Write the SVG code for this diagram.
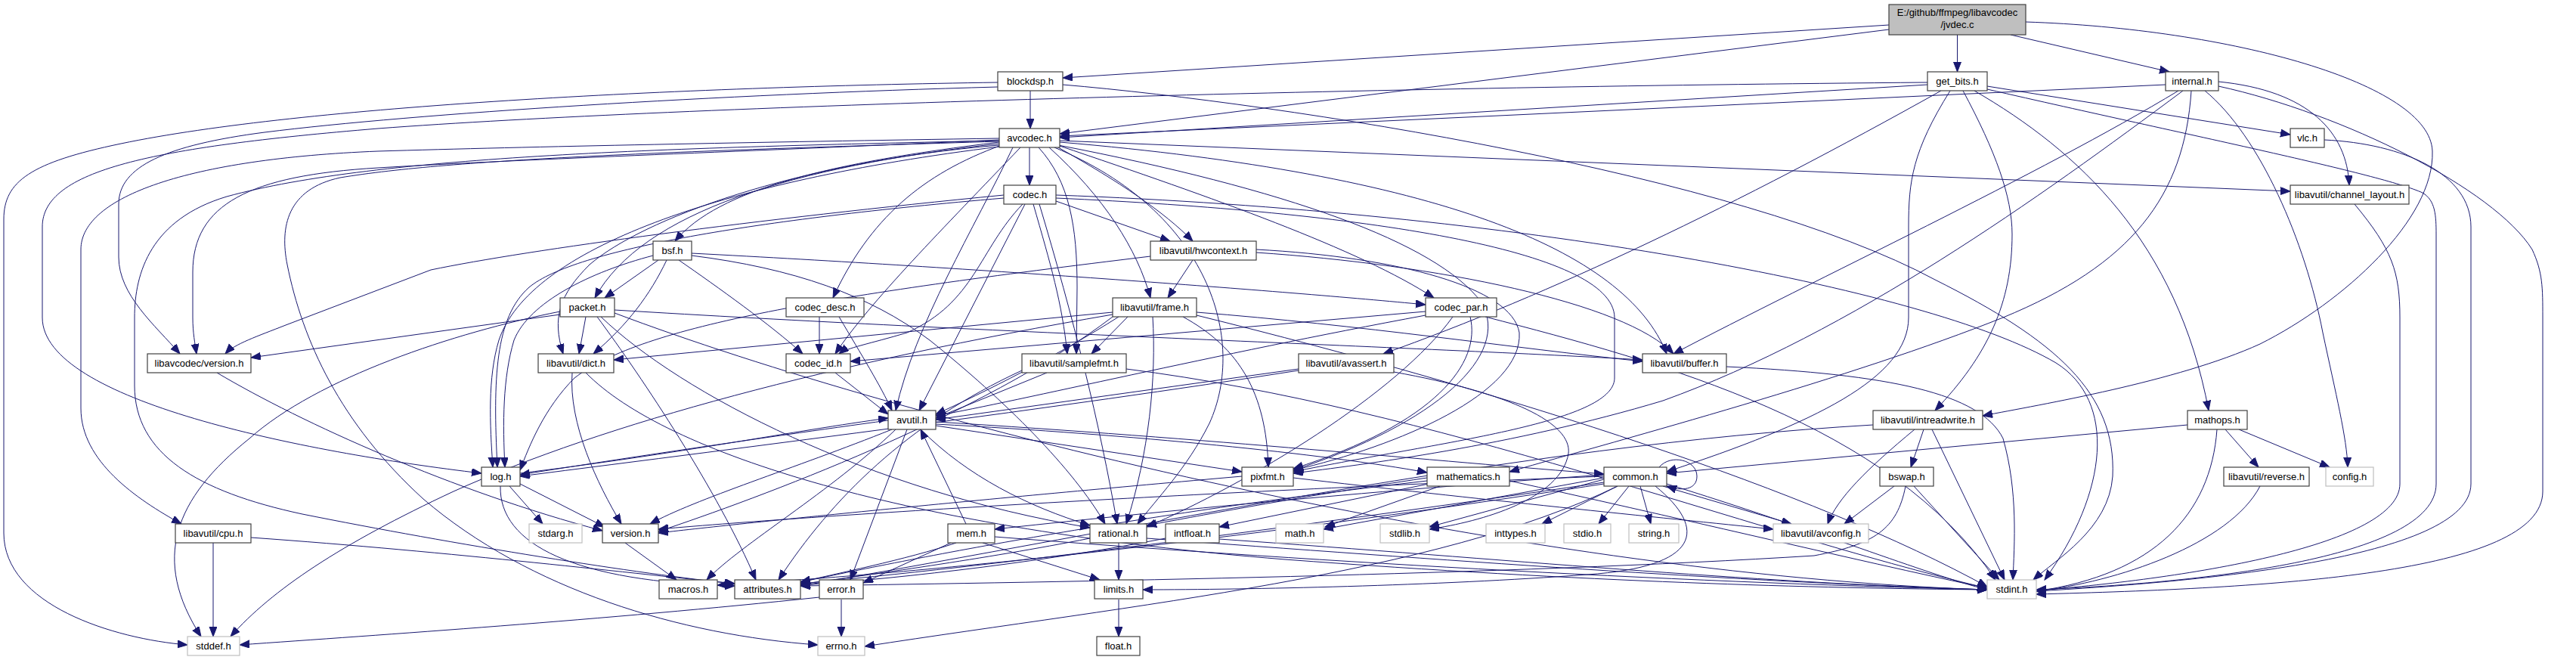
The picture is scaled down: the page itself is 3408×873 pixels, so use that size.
<svg xmlns="http://www.w3.org/2000/svg" width="3408" height="873" viewBox="0 0 3408 873">
<style>
.n rect{fill:#fff;stroke:#404040;stroke-width:1.2}
.s rect{fill:#fff;stroke:#bfbfbf;stroke-width:1.2}
.r rect{fill:#bfbfbf;stroke:#404040;stroke-width:1.2}
text{font-family:"Liberation Sans",Arial,Helvetica,sans-serif;font-size:13px;text-anchor:middle;fill:#000}
#edges path{fill:none;stroke:#191970;stroke-width:1;marker-end:url(#arr)}
</style>
<defs>
<marker id="arr" markerUnits="userSpaceOnUse" markerWidth="14" markerHeight="11" refX="13" refY="5" orient="auto"><path d="M0,0 L13,5 L0,10 z" fill="#191970" stroke="#191970" stroke-width="1"/></marker>
</defs>
<rect x="0" y="0" width="3408" height="873" fill="#ffffff"/>
<g id="edges">
<path d="M2499,33 L1406,103"/>
<path d="M2499,39 L1402,177"/>
<path d="M2589.5,46 L2589.5,95"/>
<path d="M2660,46 L2870,95"/>
<path d="M2680,29 C2950,38 3215,110 3218,200 C3221,290 3100,400 2990,455 C2880,505 2700,535 2623,550"/>
<path d="M1363,120 L1363,170"/>
<path d="M1320,109 C900,115 400,140 160,190 C40,215 5,240 5,290 L5,705 C5,800 150,845 248,853"/>
<path d="M1320,115 C950,125 550,150 350,175 C220,192 157,220 157,270 L157,340 C157,390 205,430 238,468"/>
<path d="M1406,112 C1700,137 2300,230 2560,370 C2720,450 2800,520 2795,630 C2790,700 2720,740 2690,767"/>
<path d="M2550,112 L1402,182"/>
<path d="M2550,109 C1800,115 900,140 500,170 C200,195 56,225 56,300 L56,420 C56,530 400,598 637,626"/>
<path d="M2568,120 C2300,270 2050,390 1830,468"/>
<path d="M2580,120 C2530,200 2525,240 2525,300 L2525,420 C2525,500 2400,560 2205,624"/>
<path d="M2597,120 C2640,200 2662,260 2662,310 C2662,400 2630,470 2560,543"/>
<path d="M2612,120 C2750,200 2880,320 2922,543"/>
<path d="M2629,114 L3030,178"/>
<path d="M2629,118 C2900,180 3150,230 3205,255 C3222,265 3223,285 3223,310 L3223,640 C3223,740 2900,772 2694,780"/>
<path d="M2865,112 L1402,180"/>
<path d="M2935,108 C3055,120 3105,175 3108,245"/>
<path d="M2935,114 C3100,150 3300,250 3350,330 C3364,360 3364,380 3364,420 L3364,650 C3364,760 3000,778 2694,786"/>
<path d="M2917,120 C2990,180 3050,320 3073,440 C3090,520 3105,580 3106,618"/>
<path d="M2899,120 C2890,260 2820,350 2650,420 C2450,500 2150,580 1997,624"/>
<path d="M2882,120 C2700,230 2400,370 2214,468"/>
<path d="M2888,120 C2700,260 2450,440 2200,530 C2000,590 1800,615 1711,626"/>
<path d="M1362,195 L1362,245"/>
<path d="M1322,188 C1100,215 950,250 893,319"/>
<path d="M1322,190 C1050,220 850,280 787,394"/>
<path d="M1322,192 C1050,215 850,290 780,350 C740,390 730,420 745,468"/>
<path d="M1322,194 C950,240 700,330 660,450 C645,500 648,560 652,618"/>
<path d="M1322,185 C1000,200 700,210 500,222 C330,232 255,270 255,360 L255,420 C255,440 258,455 260,468"/>
<path d="M1322,183 C1000,188 700,194 500,200 C250,210 107,260 107,330 L107,540 C107,610 180,660 240,693"/>
<path d="M1322,187 C900,200 600,210 450,235 C380,250 370,300 380,350 C400,450 450,560 560,660 C700,780 900,840 1082,853"/>
<path d="M1322,186 C900,195 500,205 300,260 C200,290 178,360 178,420 L178,510 C178,600 260,650 400,680 C600,720 850,760 972,772"/>
<path d="M1325,192 C1220,230 1150,290 1102,394"/>
<path d="M1350,195 C1250,300 1150,400 1105,468"/>
<path d="M1374,195 C1415,240 1425,300 1425,380 L1424,468"/>
<path d="M1340,195 C1290,300 1210,430 1185,543"/>
<path d="M1388,195 C1460,260 1505,330 1522,394"/>
<path d="M1400,195 C1480,240 1540,280 1578,319"/>
<path d="M1402,186 L3030,253"/>
<path d="M1402,188 C1900,230 2150,330 2205,468"/>
<path d="M1400,192 C1700,250 1900,320 1960,400 C2000,470 1900,560 1711,622"/>
<path d="M1395,195 C1600,280 1650,450 1600,560 C1570,620 1530,660 1505,693"/>
<path d="M1402,193 C1600,260 1800,330 1897,394"/>
<path d="M1397,266 L1548,319"/>
<path d="M1397,258 C2000,280 2550,380 2720,480 C2800,530 2790,650 2705,767"/>
<path d="M1397,262 C1800,280 2135,330 2136,420 L2136,500 C2136,560 1900,585 1711,624"/>
<path d="M1367,270 C1390,350 1405,400 1412,468"/>
<path d="M1353,270 C1295,330 1290,400 1200,440 C1150,455 1120,460 1110,468"/>
<path d="M1356,270 L1216,543"/>
<path d="M1328,258 C1000,290 700,330 570,357 L378,430 C340,445 310,455 298,468"/>
<path d="M1328,262 C1000,290 760,330 700,380 C655,420 652,500 658,618"/>
<path d="M1375,270 C1420,420 1455,560 1478,693"/>
<path d="M871,344 L800,394"/>
<path d="M882,344 C860,390 830,430 785,468"/>
<path d="M864,338 C780,360 700,400 680,450 C665,500 665,560 668,618"/>
<path d="M898,344 C950,380 1020,430 1062,468"/>
<path d="M915,335 C1300,355 1700,385 1886,403"/>
<path d="M915,338 C1050,355 1150,390 1230,450 C1330,530 1420,620 1462,693"/>
<path d="M775,419 L766,468"/>
<path d="M741,412 C600,440 420,500 330,580 C230,660 200,740 266,842"/>
<path d="M741,416 L332,473"/>
<path d="M790,419 C850,500 950,650 1000,767"/>
<path d="M813,410 C1300,440 1900,460 2173,476"/>
<path d="M795,419 C900,520 1150,650 1442,698"/>
<path d="M813,414 C1200,560 2000,760 2629,780"/>
<path d="M1084,419 L1084,468"/>
<path d="M1110,419 C1140,470 1165,510 1180,543"/>
<path d="M1105,493 L1175,548"/>
<path d="M1886,412 L1125,478"/>
<path d="M1886,417 C1600,470 1350,530 1238,550"/>
<path d="M1922,419 C1850,520 1650,640 1517,697"/>
<path d="M1945,419 C1960,480 1900,560 1711,620"/>
<path d="M1965,419 C2200,480 2500,560 2640,767"/>
<path d="M1578,344 L1545,394"/>
<path d="M1662,330 C1850,340 2000,380 2010,440 C2015,520 1850,590 1711,622"/>
<path d="M1662,334 C1900,350 2150,400 2214,468"/>
<path d="M1522,339 C1100,390 850,430 760,500 C720,540 700,590 688,622"/>
<path d="M1472,413 L812,476"/>
<path d="M1492,419 L1444,468"/>
<path d="M1480,419 C1400,470 1300,520 1238,548"/>
<path d="M1525,419 C1530,500 1520,600 1490,693"/>
<path d="M1565,419 C1640,460 1675,520 1678,618"/>
<path d="M1583,413 C1800,430 2000,460 2173,478"/>
<path d="M1472,416 C1100,480 800,560 600,650 C450,720 360,780 305,842"/>
<path d="M1583,417 C2000,520 2400,650 2629,776"/>
<path d="M1472,419 C1300,550 1000,660 871,703"/>
<path d="M287,493 C400,560 600,650 797,702"/>
<path d="M757,493 C752,560 790,640 822,693"/>
<path d="M775,493 C880,600 1200,700 1700,740 C2100,770 2400,778 2629,780"/>
<path d="M1385,493 L1238,553"/>
<path d="M1352,490 C1200,560 1100,660 1030,767"/>
<path d="M1490,488 C1900,540 2300,700 2629,778"/>
<path d="M1718,488 L1238,555"/>
<path d="M1718,490 C1400,540 1000,590 688,630"/>
<path d="M1844,492 C2000,520 2080,560 2075,600 C2065,660 1960,690 1891,700"/>
<path d="M2284,485 C2500,495 2620,520 2650,580 C2670,650 2665,720 2663,767"/>
<path d="M1238,558 C1600,580 1900,610 2122,627"/>
<path d="M1238,563 L1643,624"/>
<path d="M1238,561 C1500,575 1750,600 1888,625"/>
<path d="M1218,568 C1280,630 1360,670 1442,695"/>
<path d="M1200,568 L1125,767"/>
<path d="M1180,568 C1050,620 920,660 860,693"/>
<path d="M1185,568 C1100,650 980,720 935,767"/>
<path d="M1175,556 C1000,580 800,610 688,628"/>
<path d="M2545,568 L2528,618"/>
<path d="M2533,568 C2470,620 2430,660 2418,693"/>
<path d="M2556,568 L2652,767"/>
<path d="M2478,562 C2000,590 1500,700 1059,775"/>
<path d="M2894,562 L2205,626"/>
<path d="M2944,568 L2988,618"/>
<path d="M2962,568 L3082,618"/>
<path d="M2933,568 C2925,680 2850,760 2694,782"/>
<path d="M674,643 L718,693"/>
<path d="M688,640 L800,697"/>
<path d="M662,643 C660,720 760,770 972,775"/>
<path d="M688,626 C900,600 1050,570 1175,553"/>
<path d="M1711,632 C1950,660 2200,685 2346,700"/>
<path d="M1643,630 C1300,660 1000,690 871,705"/>
<path d="M1905,643 L1753,697"/>
<path d="M1888,632 C1700,660 1600,680 1517,695"/>
<path d="M1890,640 L1613,697"/>
<path d="M1888,636 C1500,680 1200,740 1059,770"/>
<path d="M1997,636 C2200,680 2450,740 2629,778"/>
<path d="M2195,618 C2210,600 2245,608 2245,630 C2245,648 2225,650 2205,643"/>
<path d="M2140,643 L2040,693"/>
<path d="M2155,643 L2115,693"/>
<path d="M2170,643 L2184,693"/>
<path d="M2122,634 L1891,697"/>
<path d="M2122,632 L1751,700"/>
<path d="M2200,643 L2370,693"/>
<path d="M2190,643 C2260,700 2250,750 2100,760 C1900,775 1650,780 1512,780"/>
<path d="M2205,640 C2400,700 2550,760 2629,780"/>
<path d="M2140,643 C1900,760 1500,800 1144,855"/>
<path d="M2122,638 C1700,700 1300,750 1059,772"/>
<path d="M2122,640 C1600,720 1200,760 949,774"/>
<path d="M2122,630 C1600,650 1100,680 871,700"/>
<path d="M2122,628 C1800,650 1500,680 1316,700"/>
<path d="M2506,643 L2440,693"/>
<path d="M2532,643 L2645,767"/>
<path d="M2521,643 C2510,700 2480,720 2400,735 C2000,760 1400,770 1059,775"/>
<path d="M2990,643 C2950,720 2800,770 2694,782"/>
<path d="M282,718 L282,842"/>
<path d="M332,711 C600,730 850,760 972,772"/>
<path d="M827,718 L895,767"/>
<path d="M1278,693 L1218,568"/>
<path d="M1300,718 L1455,767"/>
<path d="M1316,710 C1700,740 2200,770 2629,780"/>
<path d="M1265,718 C1200,740 1100,760 1059,770"/>
<path d="M1258,718 L1142,771"/>
<path d="M1480,718 L1480,767"/>
<path d="M1442,712 C1300,740 1150,760 1059,773"/>
<path d="M1517,712 C1900,740 2300,770 2629,780"/>
<path d="M1542,712 C1400,740 1200,765 1059,774"/>
<path d="M1613,713 C2000,740 2300,770 2629,780"/>
<path d="M1113,793 L1113,842"/>
<path d="M1084,790 C800,820 500,840 317,853"/>
<path d="M1480,793 L1480,842"/>
<path d="M3115,270 C3165,330 3175,360 3175,420 L3175,640 C3175,720 2900,765 2694,781"/>
<path d="M3075,185 C3180,190 3269,230 3269,300 L3269,640 C3269,740 2900,770 2694,782"/>
</g>
<g id="n_jvdec" class="r"><rect x="2499" y="6" width="181" height="40"/><text x="2589.5" y="21">E:/github/ffmpeg/libavcodec</text><text x="2589.5" y="37">/jvdec.c</text></g>
<g id="n_blockdsp" class="n"><rect x="1320" y="95" width="86" height="25"/><text x="1363" y="112">blockdsp.h</text></g>
<g id="n_get_bits" class="n"><rect x="2550" y="95" width="79" height="25"/><text x="2589.5" y="112">get_bits.h</text></g>
<g id="n_internal" class="n"><rect x="2865" y="95" width="70" height="25"/><text x="2900" y="112">internal.h</text></g>
<g id="n_avcodec" class="n"><rect x="1322" y="170" width="80" height="25"/><text x="1362" y="187">avcodec.h</text></g>
<g id="n_vlc" class="n"><rect x="3030" y="170" width="45" height="25"/><text x="3052.5" y="187">vlc.h</text></g>
<g id="n_codec" class="n"><rect x="1328" y="245" width="69" height="25"/><text x="1362.5" y="262">codec.h</text></g>
<g id="n_channel_layout" class="n"><rect x="3030" y="245" width="157" height="25"/><text x="3108.5" y="262">libavutil/channel_layout.h</text></g>
<g id="n_bsf" class="n"><rect x="864" y="319" width="51" height="25"/><text x="889.5" y="336">bsf.h</text></g>
<g id="n_hwcontext" class="n"><rect x="1522" y="319" width="140" height="25"/><text x="1592" y="336">libavutil/hwcontext.h</text></g>
<g id="n_packet" class="n"><rect x="741" y="394" width="72" height="25"/><text x="777" y="411">packet.h</text></g>
<g id="n_codec_desc" class="n"><rect x="1040" y="394" width="103" height="25"/><text x="1091.5" y="411">codec_desc.h</text></g>
<g id="n_frame" class="n"><rect x="1472" y="394" width="111" height="25"/><text x="1527.5" y="411">libavutil/frame.h</text></g>
<g id="n_codec_par" class="n"><rect x="1886" y="394" width="94" height="25"/><text x="1933" y="411">codec_par.h</text></g>
<g id="n_lavc_version" class="n"><rect x="195" y="468" width="137" height="25"/><text x="263.5" y="485">libavcodec/version.h</text></g>
<g id="n_dict" class="n"><rect x="712" y="468" width="100" height="25"/><text x="762" y="485">libavutil/dict.h</text></g>
<g id="n_codec_id" class="n"><rect x="1040" y="468" width="85" height="25"/><text x="1082.5" y="485">codec_id.h</text></g>
<g id="n_samplefmt" class="n"><rect x="1352" y="468" width="138" height="25"/><text x="1421" y="485">libavutil/samplefmt.h</text></g>
<g id="n_avassert" class="n"><rect x="1718" y="468" width="126" height="25"/><text x="1781" y="485">libavutil/avassert.h</text></g>
<g id="n_buffer" class="n"><rect x="2173" y="468" width="111" height="25"/><text x="2228.5" y="485">libavutil/buffer.h</text></g>
<g id="n_avutil" class="n"><rect x="1175" y="543" width="63" height="25"/><text x="1206.5" y="560">avutil.h</text></g>
<g id="n_intreadwrite" class="n"><rect x="2478" y="543" width="145" height="25"/><text x="2550.5" y="560">libavutil/intreadwrite.h</text></g>
<g id="n_mathops" class="n"><rect x="2894" y="543" width="79" height="25"/><text x="2933.5" y="560">mathops.h</text></g>
<g id="n_log" class="n"><rect x="637" y="618" width="51" height="25"/><text x="662.5" y="635">log.h</text></g>
<g id="n_pixfmt" class="n"><rect x="1643" y="618" width="68" height="25"/><text x="1677" y="635">pixfmt.h</text></g>
<g id="n_mathematics" class="n"><rect x="1888" y="618" width="109" height="25"/><text x="1942.5" y="635">mathematics.h</text></g>
<g id="n_common" class="n"><rect x="2122" y="618" width="83" height="25"/><text x="2163.5" y="635">common.h</text></g>
<g id="n_bswap" class="n"><rect x="2487" y="618" width="71" height="25"/><text x="2522.5" y="635">bswap.h</text></g>
<g id="n_reverse" class="n"><rect x="2942" y="618" width="113" height="25"/><text x="2998.5" y="635">libavutil/reverse.h</text></g>
<g id="n_config" class="s"><rect x="3077" y="618" width="63" height="25"/><text x="3108.5" y="635">config.h</text></g>
<g id="n_cpu" class="n"><rect x="232" y="693" width="100" height="25"/><text x="282" y="710">libavutil/cpu.h</text></g>
<g id="n_stdarg" class="s"><rect x="700" y="693" width="70" height="25"/><text x="735" y="710">stdarg.h</text></g>
<g id="n_version" class="n"><rect x="797" y="693" width="74" height="25"/><text x="834" y="710">version.h</text></g>
<g id="n_mem" class="n"><rect x="1254" y="693" width="62" height="25"/><text x="1285" y="710">mem.h</text></g>
<g id="n_rational" class="n"><rect x="1442" y="693" width="75" height="25"/><text x="1479.5" y="710">rational.h</text></g>
<g id="n_intfloat" class="n"><rect x="1542" y="693" width="71" height="25"/><text x="1577.5" y="710">intfloat.h</text></g>
<g id="n_math" class="s"><rect x="1688" y="693" width="63" height="25"/><text x="1719.5" y="710">math.h</text></g>
<g id="n_stdlib" class="s"><rect x="1826" y="693" width="65" height="25"/><text x="1858.5" y="710">stdlib.h</text></g>
<g id="n_inttypes" class="s"><rect x="1966" y="693" width="78" height="25"/><text x="2005" y="710">inttypes.h</text></g>
<g id="n_stdio" class="s"><rect x="2069" y="693" width="62" height="25"/><text x="2100" y="710">stdio.h</text></g>
<g id="n_string" class="s"><rect x="2155" y="693" width="66" height="25"/><text x="2188" y="710">string.h</text></g>
<g id="n_avconfig" class="s"><rect x="2346" y="693" width="126" height="25"/><text x="2409" y="710">libavutil/avconfig.h</text></g>
<g id="n_macros" class="n"><rect x="872" y="767" width="77" height="25"/><text x="910.5" y="784">macros.h</text></g>
<g id="n_attributes" class="n"><rect x="972" y="767" width="87" height="25"/><text x="1015.5" y="784">attributes.h</text></g>
<g id="n_error" class="n"><rect x="1084" y="767" width="58" height="25"/><text x="1113" y="784">error.h</text></g>
<g id="n_limits" class="n"><rect x="1448" y="767" width="64" height="25"/><text x="1480" y="784">limits.h</text></g>
<g id="n_stdint" class="s"><rect x="2629" y="767" width="65" height="25"/><text x="2661.5" y="784">stdint.h</text></g>
<g id="n_stddef" class="s"><rect x="248" y="842" width="69" height="25"/><text x="282.5" y="859">stddef.h</text></g>
<g id="n_errno" class="s"><rect x="1082" y="842" width="62" height="25"/><text x="1113" y="859">errno.h</text></g>
<g id="n_float" class="n"><rect x="1451" y="842" width="57" height="25"/><text x="1479.5" y="859">float.h</text></g>
</svg>
